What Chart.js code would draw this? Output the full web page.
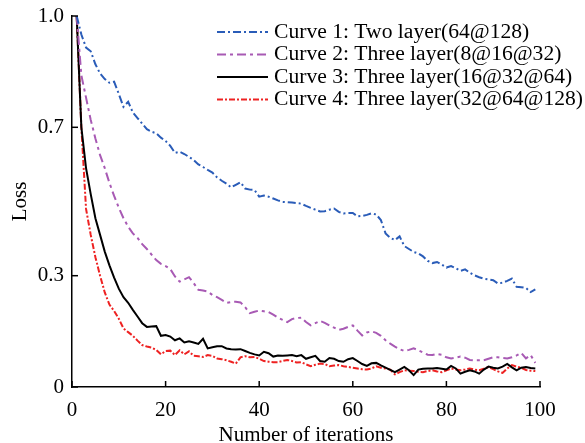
<!DOCTYPE html>
<html>
<head>
<meta charset="utf-8">
<script src="https://cdn.jsdelivr.net/npm/chart.js@4"></script>
<style>
  body { margin: 0; background: #fff; }
  #lossChart { display: block; }
</style>
</head>
<body>
<canvas id="lossChart" width="585" height="443"></canvas>
<script>
var iterations = Array.from({length: 99}, function(_, i) { return i + 1; });

var curve1 = [1.00,0.95,0.915,0.905,0.87,0.845,0.83,0.82,0.823,0.79,
  0.755,0.769,0.74,0.725,0.71,0.695,0.688,0.684,0.672,0.663,
  0.65,0.631,0.634,0.628,0.62,0.612,0.60,0.593,0.585,0.578,
  0.565,0.556,0.548,0.538,0.545,0.552,0.535,0.532,0.531,0.513,
  0.516,0.513,0.508,0.503,0.499,0.498,0.497,0.496,0.494,0.488,
  0.483,0.478,0.473,0.474,0.478,0.481,0.472,0.468,0.469,0.469,
  0.46,0.461,0.464,0.468,0.465,0.45,0.414,0.402,0.396,0.406,
  0.38,0.372,0.364,0.36,0.352,0.34,0.334,0.337,0.33,0.322,
  0.326,0.32,0.313,0.317,0.308,0.301,0.296,0.292,0.29,0.288,
  0.279,0.281,0.286,0.292,0.27,0.269,0.267,0.256,0.263];

var curve2 = [1.0,0.84,0.78,0.72,0.67,0.625,0.59,0.55,0.515,0.483,
  0.455,0.432,0.414,0.402,0.385,0.372,0.357,0.342,0.332,0.326,
  0.318,0.298,0.284,0.29,0.296,0.28,0.262,0.26,0.257,0.248,
  0.242,0.235,0.227,0.229,0.23,0.228,0.215,0.199,0.203,0.206,
  0.204,0.202,0.195,0.187,0.181,0.175,0.183,0.186,0.187,0.175,
  0.166,0.172,0.178,0.173,0.166,0.16,0.154,0.157,0.162,0.166,
  0.152,0.139,0.147,0.15,0.146,0.138,0.126,0.117,0.109,0.102,
  0.097,0.1,0.104,0.099,0.093,0.087,0.086,0.089,0.087,0.08,
  0.077,0.079,0.082,0.079,0.073,0.072,0.072,0.072,0.076,0.08,
  0.08,0.078,0.077,0.08,0.085,0.092,0.077,0.086,0.065];

var curve3 = [1.0,0.70,0.59,0.52,0.455,0.41,0.365,0.328,0.295,0.265,
  0.242,0.227,0.208,0.19,0.172,0.162,0.163,0.164,0.138,0.14,
  0.136,0.126,0.131,0.12,0.123,0.12,0.116,0.13,0.104,0.107,
  0.11,0.11,0.104,0.102,0.101,0.102,0.097,0.092,0.088,0.085,
  0.095,0.091,0.082,0.085,0.084,0.085,0.086,0.083,0.086,0.076,
  0.08,0.084,0.07,0.068,0.078,0.076,0.07,0.068,0.075,0.078,
  0.07,0.062,0.057,0.064,0.065,0.058,0.052,0.046,0.04,0.047,
  0.054,0.045,0.032,0.047,0.049,0.05,0.05,0.051,0.049,0.047,
  0.057,0.05,0.036,0.041,0.045,0.042,0.036,0.047,0.055,0.052,
  0.05,0.055,0.062,0.053,0.045,0.052,0.054,0.051,0.05];

var curve4 = [1.0,0.70,0.48,0.41,0.35,0.30,0.255,0.222,0.205,0.184,
  0.158,0.148,0.138,0.125,0.113,0.109,0.106,0.1,0.088,0.097,
  0.098,0.086,0.099,0.088,0.096,0.084,0.083,0.081,0.086,0.084,
  0.077,0.075,0.072,0.068,0.063,0.08,0.083,0.08,0.081,0.076,
  0.07,0.068,0.067,0.067,0.07,0.073,0.07,0.066,0.067,0.061,
  0.056,0.06,0.063,0.062,0.056,0.058,0.059,0.056,0.054,0.052,
  0.05,0.048,0.047,0.05,0.056,0.052,0.05,0.047,0.034,0.04,
  0.045,0.044,0.043,0.041,0.04,0.043,0.045,0.042,0.04,0.045,
  0.05,0.047,0.045,0.047,0.05,0.047,0.045,0.049,0.054,0.048,
  0.042,0.038,0.05,0.059,0.055,0.052,0.046,0.044,0.043];

var curveLabels = [
  'Curve 1: Two layer(64@128)',
  'Curve 2: Three layer(8@16@32)',
  'Curve 3: Three layer(16@32@64)',
  'Curve 4: Three layer(32@64@128)'
];
var xTicks = [0, 20, 40, 60, 80, 100];
var yTicks = [0, 0.3, 0.7, 1.0];

var serif = '"Liberation Serif", "Times New Roman", serif';

function toPoints(values) {
    return values.map(function(v, i) { return {x: iterations[i], y: v}; });
}

// legend inside the plot + inward tick marks
var decorPlugin = {
    id: 'decor',
    afterDatasetsDraw: function(chart) {
        var ctx = chart.ctx;
        var xs = chart.scales.x, ys = chart.scales.y;
        ctx.save();
        ctx.strokeStyle = '#000';
        ctx.lineWidth = 1.5;
        xs.ticks.forEach(function(t) {
            var px = xs.getPixelForValue(t.value);
            ctx.beginPath();
            ctx.moveTo(px, ys.bottom);
            ctx.lineTo(px, ys.bottom - 6);
            ctx.stroke();
        });
        ys.ticks.forEach(function(t) {
            var py = ys.getPixelForValue(t.value);
            ctx.beginPath();
            ctx.moveTo(xs.left, py);
            ctx.lineTo(xs.left + 6, py);
            ctx.stroke();
        });

        chart.data.datasets.forEach(function(ds, i) {
            var ly = 32 + i * 22.5;
            ctx.strokeStyle = ds.borderColor;
            ctx.lineWidth = ds.borderWidth;
            ctx.setLineDash(ds.borderDash || []);
            ctx.beginPath();
            ctx.moveTo(217, ly);
            ctx.lineTo(268, ly);
            ctx.stroke();
            ctx.setLineDash([]);
            ctx.fillStyle = '#000';
            ctx.font = '21.6px ' + serif;
            ctx.textBaseline = 'middle';
            ctx.textAlign = 'left';
            ctx.fillText(ds.label, 274, ly);
        });
        ctx.restore();
    }
};

var ctxLoss = document.getElementById('lossChart');
var lossChart = new Chart(ctxLoss, {
    type: 'line',
    data: {
        datasets: [
            {
                label: curveLabels[0],
                data: toPoints(curve1),
                borderColor: '#2a5cb8',
                borderWidth: 2,
                borderDash: [8, 3, 2, 3]
            },
            {
                label: curveLabels[1],
                data: toPoints(curve2),
                borderColor: '#a85ab4',
                borderWidth: 2,
                borderDash: [9, 4, 3, 4]
            },
            {
                label: curveLabels[2],
                data: toPoints(curve3),
                borderColor: '#000000',
                borderWidth: 2
            },
            {
                label: curveLabels[3],
                data: toPoints(curve4),
                borderColor: '#ee2222',
                borderWidth: 2,
                borderDash: [6, 2, 2, 2]
            }
        ]
    },
    options: {
        responsive: false,
        animation: false,
        layout: {
            padding: {left: 0, right: 45, top: 16, bottom: 0}
        },
        elements: {
            point: {radius: 0},
            line: {tension: 0}
        },
        plugins: {
            legend: {display: false},
            tooltip: {enabled: false}
        },
        scales: {
            x: {
                type: 'linear',
                min: 0,
                max: 100,
                afterBuildTicks: function(scale) {
                    scale.ticks = xTicks.map(function(v) { return {value: v}; });
                },
                afterFit: function(scale) { scale.height = 56; },
                grid: {display: false},
                border: {display: true, color: '#000', width: 1.5},
                ticks: {
                    color: '#000',
                    padding: 3,
                    maxRotation: 0,
                    font: {family: serif, size: 21}
                },
                title: {
                    display: true,
                    text: 'Number of iterations',
                    color: '#000',
                    padding: {top: 0, bottom: -5},
                    font: {family: serif, size: 21}
                }
            },
            y: {
                min: 0,
                max: 1,
                afterBuildTicks: function(scale) {
                    scale.ticks = yTicks.map(function(v) { return {value: v}; });
                },
                afterFit: function(scale) { scale.width = 72; },
                grid: {display: false},
                border: {display: true, color: '#000', width: 1.5},
                ticks: {
                    color: '#000',
                    padding: 0,
                    font: {family: serif, size: 21},
                    callback: function(v) { return v === 0 ? '0' : v.toFixed(1); }
                },
                title: {
                    display: true,
                    text: 'Loss',
                    color: '#000',
                    padding: {top: 8, bottom: 0},
                    font: {family: serif, size: 21}
                }
            }
        }
    },
    plugins: [decorPlugin]
});
</script>
</body>
</html>
